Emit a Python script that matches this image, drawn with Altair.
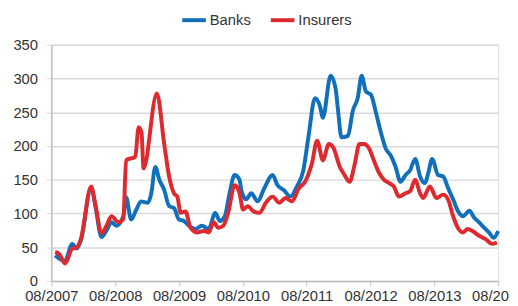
import altair as alt
import pandas as pd

banks_dates = [
    "2007-08-23", "2007-10-18", "2007-11-29", "2007-12-25", "2008-01-17", "2008-03-16",
    "2008-04-10", "2008-05-14", "2008-06-12", "2008-07-10", "2008-08-07", "2008-09-16",
    "2008-10-02", "2008-10-31", "2008-11-28", "2008-12-26", "2009-02-04", "2009-02-23",
    "2009-03-18", "2009-04-10", "2009-05-08", "2009-06-05", "2009-07-03", "2009-08-01",
    "2009-08-29", "2009-09-26", "2009-11-03", "2009-12-10", "2010-01-17", "2010-02-24",
    "2010-03-22", "2010-04-20", "2010-05-17", "2010-06-15", "2010-07-13", "2010-07-23",
    "2010-08-20", "2010-09-18", "2010-10-25", "2010-12-01", "2011-01-18", "2011-02-15",
    "2011-03-23", "2011-04-30", "2011-06-06", "2011-07-13", "2011-08-11", "2011-09-18",
    "2011-10-16", "2011-11-02", "2011-12-16", "2012-01-13", "2012-01-28", "2012-02-16",
    "2012-03-24", "2012-04-21", "2012-05-19", "2012-06-11", "2012-07-05", "2012-08-03",
    "2012-09-01", "2012-09-29", "2012-10-27", "2012-11-24", "2012-12-22", "2013-01-19",
    "2013-02-17", "2013-03-15", "2013-04-13", "2013-05-11", "2013-06-08", "2013-06-27",
    "2013-07-19", "2013-08-22", "2013-09-20", "2013-10-18", "2013-11-16", "2013-12-13",
    "2014-01-11", "2014-02-18", "2014-03-16", "2014-04-14", "2014-05-12", "2014-06-09",
    "2014-07-07", "2014-08-01",
]
banks_values = [
    38, 30, 55, 48, 60, 138,
    110, 65, 75, 87, 82, 96,
    124, 91, 105, 118, 116, 130,
    169, 150, 135, 111, 108, 91,
    89, 82, 77, 82, 77, 101,
    89, 96, 130, 157, 150, 135,
    121, 130, 118, 137, 157, 142,
    135, 125, 140, 164, 213, 271,
    259, 242, 304, 286, 252, 213,
    215, 252, 271, 304, 281, 276,
    249, 220, 196, 186, 169, 147,
    157, 164, 181, 155, 145, 160,
    181, 157, 155, 138, 121, 104,
    96, 104, 94, 87, 79, 72,
    64, 74,
]

insurers_dates = [
    "2007-08-23", "2007-09-15", "2007-10-18", "2007-11-29", "2007-12-25", "2008-01-17",
    "2008-03-16", "2008-04-10", "2008-05-14", "2008-06-12", "2008-07-10", "2008-08-20",
    "2008-09-16", "2008-10-02", "2008-11-23", "2008-12-13", "2008-12-29", "2009-01-10",
    "2009-03-27", "2009-05-08", "2009-06-05", "2009-07-03", "2009-07-22", "2009-08-10",
    "2009-09-07", "2009-10-05", "2009-11-12", "2009-12-20", "2010-01-17", "2010-02-15",
    "2010-03-13", "2010-04-11", "2010-05-09", "2010-06-15", "2010-07-13", "2010-08-02",
    "2010-08-30", "2010-09-27", "2010-11-03", "2010-12-11", "2011-01-18", "2011-02-25",
    "2011-04-02", "2011-05-09", "2011-06-16", "2011-07-23", "2011-08-31", "2011-09-30",
    "2011-11-02", "2011-12-06", "2011-12-31", "2012-02-07", "2012-03-05", "2012-04-03",
    "2012-05-01", "2012-05-29", "2012-06-26", "2012-07-24", "2012-08-22", "2012-09-19",
    "2012-10-17", "2012-11-15", "2012-12-12", "2013-01-10", "2013-02-17", "2013-03-15",
    "2013-04-13", "2013-05-11", "2013-05-29", "2013-07-06", "2013-08-13", "2013-09-20",
    "2013-10-18", "2013-11-16", "2013-12-13", "2014-01-11", "2014-02-08", "2014-03-07",
    "2014-04-14", "2014-05-21", "2014-06-27", "2014-07-25",
]
insurers_values = [
    43, 40, 26, 48, 50, 62,
    140, 112, 71, 82, 96, 87,
    92, 179, 184, 228, 220, 167,
    278, 203, 155, 130, 125, 101,
    103, 79, 72, 74, 72, 87,
    79, 82, 101, 142, 130, 106,
    111, 104, 101, 116, 125, 116,
    123, 118, 137, 147, 174, 208,
    179, 203, 198, 169, 157, 147,
    172, 203, 203, 196, 177, 160,
    150, 145, 140, 125, 130, 133,
    150, 130, 123, 140, 123, 128,
    121, 96, 79, 72, 77, 74,
    67, 62, 55, 57,
]

series_names = ["Banks", "Insurers"]
series_colors = ["#1170BC", "#DE2A2E"]
y_ticks = [0, 50, 100, 150, 200, 250, 300, 350]
x_tick_years = [2007, 2008, 2009, 2010, 2011, 2012, 2013, 2014]

df_banks = pd.DataFrame({"date": pd.to_datetime(banks_dates), "value": banks_values, "series": "Banks"})
df_ins = pd.DataFrame({"date": pd.to_datetime(insurers_dates), "value": insurers_values, "series": "Insurers"})

FONT = "Liberation Sans"

x_enc = alt.X(
    "date:T",
    title=None,
    scale=alt.Scale(domain=[alt.DateTime(year=2007, month=8, date=1), alt.DateTime(year=2014, month=8, date=1)]),
    axis=alt.Axis(
        values=[alt.DateTime(year=y, month=8, date=1) for y in x_tick_years],
        format="%m/%Y",
        grid=False,
        labelFontSize=15,
        labelFont=FONT,
        labelColor="#333333",
        domainColor="#BFBFBF",
        domainWidth=1.5,
        tickColor="#BFBFBF",
        tickSize=5,
        labelPadding=3,
        labelFlush=False,
        labelOverlap=False,
    ),
)
y_enc = alt.Y(
    "value:Q",
    title=None,
    scale=alt.Scale(domain=[0, 350]),
    axis=alt.Axis(
        values=y_ticks,
        labelFontSize=15,
        labelFont=FONT,
        labelColor="#333333",
        domainColor="#BFBFBF",
        domainWidth=1.5,
        gridColor="#D9D9D9",
        gridWidth=1.5,
        tickColor="#D9D9D9",
        tickSize=5,
        labelPadding=9,
    ),
)
color_enc = alt.Color(
    "series:N",
    scale=alt.Scale(domain=series_names, range=series_colors),
    legend=alt.Legend(
        title=None,
        orient="none",
        direction="horizontal",
        legendX=131,
        legendY=-39,
        symbolType="stroke",
        symbolStrokeWidth=4,
        symbolSize=576,
        labelFontSize=15,
        labelFont=FONT,
        labelColor="#333333",
        labelOffset=2,
        columnPadding=12,
    ),
)

banks = alt.Chart(df_banks).mark_line(strokeWidth=4, interpolate="monotone").encode(x=x_enc, y=y_enc, color=color_enc)
ins = alt.Chart(df_ins).mark_line(strokeWidth=4, interpolate="monotone").encode(x=x_enc, y=y_enc, color=color_enc)

chart = alt.layer(banks, ins).properties(
    width=454,
    height=240,
    padding={"left": 44, "top": 35, "right": 12, "bottom": 23},
    autosize=alt.AutoSizeParams(type="none"),
).configure_view(stroke=None).configure(background="white")

chart.save("out.html", embed_options={"renderer": "svg", "actions": False})
